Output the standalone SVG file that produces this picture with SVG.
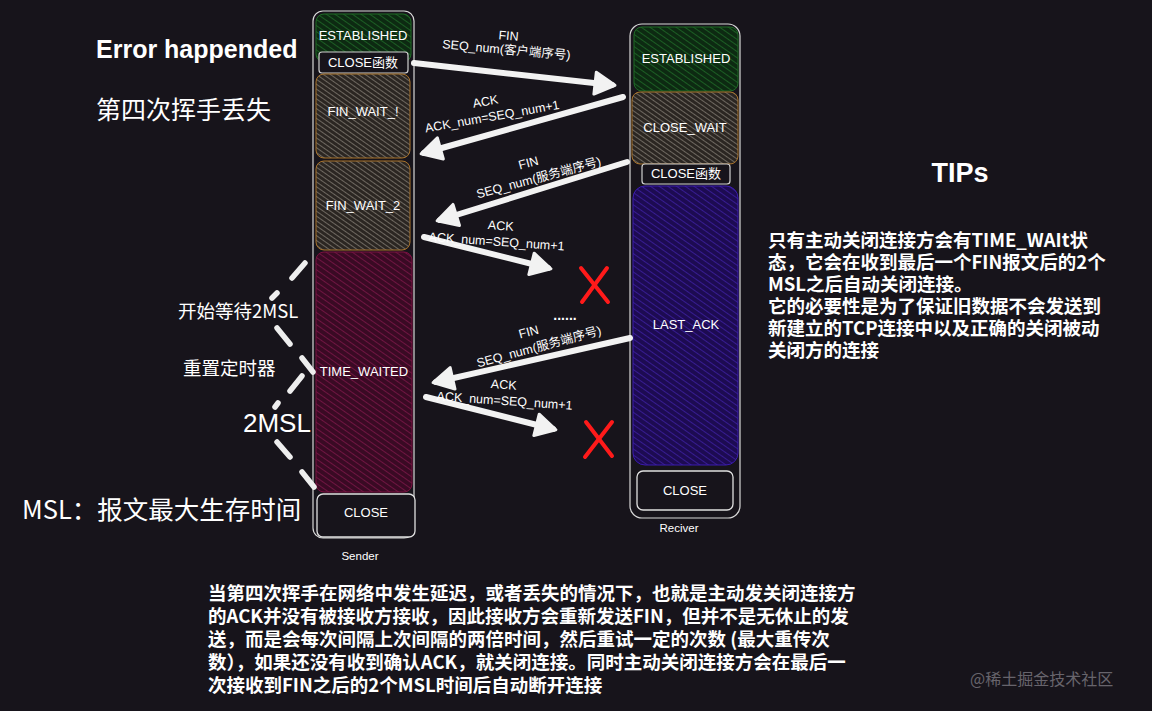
<svg xmlns="http://www.w3.org/2000/svg" width="1152" height="711" viewBox="0 0 1152 711">
<defs>
<pattern id="hGreen" width="5" height="5" patternUnits="userSpaceOnUse" patternTransform="rotate(-55)"><rect width="5" height="5" fill="#0d2a12"/><line x1="0" y1="0" x2="0" y2="5" stroke="#237a2e" stroke-width="1.3"/></pattern>
<pattern id="hGrey" width="4" height="4" patternUnits="userSpaceOnUse" patternTransform="rotate(-55)"><rect width="4" height="4" fill="#2b2622"/><line x1="0" y1="0" x2="0" y2="4" stroke="#9c948a" stroke-width="1.2"/></pattern>
<pattern id="hRed" width="5" height="5" patternUnits="userSpaceOnUse" patternTransform="rotate(-55)"><rect width="5" height="5" fill="#3a0a24"/><line x1="0" y1="0" x2="0" y2="5" stroke="#8c1a52" stroke-width="1.3"/></pattern>
<pattern id="hPurple" width="5" height="5" patternUnits="userSpaceOnUse" patternTransform="rotate(-55)"><rect width="5" height="5" fill="#1d0b52"/><line x1="0" y1="0" x2="0" y2="5" stroke="#4524b4" stroke-width="1.3"/></pattern>
<marker id="ah" markerWidth="8" markerHeight="8" refX="5" refY="4" orient="auto" markerUnits="userSpaceOnUse" viewBox="0 0 8 8" overflow="visible">
<path d="M-12,-7 L8,4 L-12,15 Z" fill="#f2f2f2" stroke="#f2f2f2" stroke-width="3" stroke-linejoin="round"/>
</marker>
<style>
.t{font-family:"Liberation Sans","Noto Sans CJK SC",sans-serif;fill:#ffffff;text-anchor:middle;}
.s{font-size:13px;}
.lab{font-size:12.5px;}
.p{font-family:"Noto Sans CJK SC","Liberation Sans",sans-serif;fill:#ffffff;font-size:18.5px;font-weight:bold;}
.outer{fill:none;stroke:#d8d8d8;stroke-width:1.2;}
.fn{fill:#17141b;stroke:#d0d0d0;stroke-width:1.2;}
.arr{stroke:#f2f2f2;stroke-width:6;stroke-linecap:round;fill:none;marker-end:url(#ah);}
.x{stroke:#ff1a1a;stroke-width:4;stroke-linecap:round;}
.dash{stroke:#eeeeee;stroke-width:5.5;stroke-linecap:round;fill:none;}
</style>
</defs>
<rect width="1152" height="711" fill="#17141b"/>

<g id="sender">
<rect class="outer" x="313" y="11" width="101" height="527" rx="10"/>
<rect x="316" y="14" width="95" height="48" rx="8" fill="url(#hGreen)" stroke="#1e6b25"/>
<text class="t s" x="363" y="40">ESTABLISHED</text>
<rect class="fn" x="319" y="52" width="89" height="21" rx="3"/>
<text class="t s" x="363" y="67">CLOSE函数</text>
<rect x="316" y="74" width="94" height="84" rx="8" fill="url(#hGrey)" stroke="#a8722a"/>
<text class="t s" x="363" y="116">FIN_WAIT_!</text>
<rect x="316" y="161" width="94" height="89" rx="8" fill="url(#hGrey)" stroke="#a8722a"/>
<text class="t s" x="363" y="210">FIN_WAIT_2</text>
<rect x="316" y="252" width="96" height="240" rx="8" fill="url(#hRed)" stroke="#7a1040"/>
<text class="t s" x="364" y="376">TIME_WAITED</text>
<rect x="317" y="494" width="98" height="43" rx="6" fill="#17141b" stroke="#e0e0e0" stroke-width="1.3"/>
<text class="t s" x="366" y="517">CLOSE</text>
<text class="t" x="360" y="560" font-size="11.5">Sender</text>
</g>

<g id="receiver">
<rect class="outer" x="630" y="24" width="110" height="494" rx="12"/>
<rect x="634" y="27" width="104" height="64" rx="8" fill="url(#hGreen)" stroke="#1e6b25"/>
<text class="t s" x="686" y="63">ESTABLISHED</text>
<rect x="632" y="92" width="106" height="72" rx="8" fill="url(#hGrey)" stroke="#a8722a"/>
<text class="t s" x="685" y="132">CLOSE_WAIT</text>
<rect class="fn" x="642" y="164" width="88" height="20" rx="3"/>
<text class="t s" x="686" y="178">CLOSE函数</text>
<rect x="633" y="186" width="105" height="279" rx="12" fill="url(#hPurple)" stroke="#3a1ab0"/>
<text class="t s" x="686" y="329">LAST_ACK</text>
<rect x="637" y="471" width="96" height="39" rx="6" fill="#17141b" stroke="#e0e0e0" stroke-width="1.3"/>
<text class="t s" x="685" y="495">CLOSE</text>
<text class="t" x="679" y="532" font-size="11.5">Reciver</text>
</g>

<g id="connectors">
<line class="arr" x1="414" y1="63" x2="612" y2="85"/>
<line class="arr" x1="623" y1="97" x2="424" y2="153"/>
<line class="arr" x1="627" y1="162" x2="440" y2="220"/>
<line class="arr" x1="424" y1="237" x2="548" y2="268"/>
<line class="arr" x1="630" y1="338" x2="436" y2="382"/>
<line class="arr" x1="426" y1="397" x2="553" y2="429"/>
<g id="bracket1">
<line class="dash" x1="305" y1="263" x2="292" y2="278"/>
<line class="dash" x1="277" y1="293" x2="272" y2="298"/>
<line class="dash" x1="277" y1="328" x2="290" y2="344"/>
<line class="dash" x1="302" y1="358" x2="313" y2="372"/>
</g>
<g id="bracket2">
<line class="dash" x1="302" y1="376" x2="290" y2="391"/>
<line class="dash" x1="278" y1="403" x2="275" y2="407"/>
<line class="dash" x1="277" y1="442" x2="290" y2="457"/>
<line class="dash" x1="302" y1="472" x2="314" y2="487"/>
</g>
</g>

<g id="labels">
<g transform="rotate(5 508 43)">
<text class="t lab" x="508" y="40">FIN</text>
<text class="t lab" x="507" y="54">SEQ_num(客户端序号)</text>
</g>
<g transform="rotate(-10 490 110)">
<text class="t lab" x="487" y="105">ACK</text>
<text class="t lab" x="491" y="121">ACK_num=SEQ_num+1</text>
</g>
<g transform="rotate(-15 534 172)">
<text class="t lab" x="531" y="166">FIN</text>
<text class="t lab" x="537" y="183">SEQ_num(服务端序号)</text>
</g>
<g transform="rotate(4 500 236)">
<text class="t lab" x="500" y="230">ACK</text>
<text class="t lab" x="497" y="246">ACK_num=SEQ_num+1</text>
</g>
<g transform="rotate(-15 534 340)">
<text class="t lab" x="531" y="335">FIN</text>
<text class="t lab" x="537" y="352">SEQ_num(服务端序号)</text>
</g>
<g transform="rotate(4 505 395)">
<text class="t lab" x="503" y="389">ACK</text>
<text class="t lab" x="505" y="405">ACK_num=SEQ_num+1</text>
</g>
<text class="t" x="565" y="320" font-size="14" font-weight="bold">......</text>
</g>

<g id="lost1">
<line class="x" x1="581" y1="268" x2="608" y2="302"/>
<line class="x" x1="607" y1="268" x2="582" y2="302"/>
</g>
<g id="lost2">
<line class="x" x1="586" y1="422" x2="612" y2="456"/>
<line class="x" x1="612" y1="422" x2="585" y2="457"/>
</g>

<g id="left-notes">
<text x="96" y="58" font-family="Liberation Sans, sans-serif" font-size="25" font-weight="bold" fill="#ffffff">Error happended</text>
<text x="96" y="119" font-family="Noto Sans CJK SC, sans-serif" font-size="25" fill="#ffffff">第四次挥手丢失</text>
<text x="178" y="318" font-family="Noto Sans CJK SC, sans-serif" font-size="18.5" fill="#ffffff">开始等待2MSL</text>
<text x="183" y="375" font-family="Noto Sans CJK SC, sans-serif" font-size="18.5" fill="#ffffff">重置定时器</text>
<text x="243" y="432" font-family="Liberation Sans, sans-serif" font-size="26" fill="#ffffff">2MSL</text>
<text x="22" y="519" font-family="Noto Sans CJK SC, sans-serif" font-size="25.5" fill="#ffffff">MSL：报文最大生存时间</text>
</g>

<g id="tips">
<text x="960" y="182" class="t" font-size="27" font-weight="bold">TIPs</text>
<text class="p" x="768" y="247">只有主动关闭连接方会有TIME_WAIt状</text>
<text class="p" x="768" y="269">态，它会在收到最后一个FIN报文后的2个</text>
<text class="p" x="768" y="291">MSL之后自动关闭连接。</text>
<text class="p" x="768" y="313">它的必要性是为了保证旧数据不会发送到</text>
<text class="p" x="768" y="335">新建立的TCP连接中以及正确的关闭被动</text>
<text class="p" x="768" y="357">关闭方的连接</text>
</g>

<g id="description">
<text class="p" x="208" y="600">当第四次挥手在网络中发生延迟，或者丢失的情况下，也就是主动发关闭连接方</text>
<text class="p" x="208" y="623">的ACK并没有被接收方接收，因此接收方会重新发送FIN，但并不是无休止的发</text>
<text class="p" x="208" y="646">送，而是会每次间隔上次间隔的两倍时间，然后重试一定的次数 (最大重传次</text>
<text class="p" x="208" y="669">数），如果还没有收到确认ACK，就关闭连接。同时主动关闭连接方会在最后一</text>
<text class="p" x="208" y="692">次接收到FIN之后的2个MSL时间后自动断开连接</text>
</g>

<text x="970" y="685" font-family="Noto Sans CJK SC, sans-serif" font-size="16" fill="#67646c">@稀土掘金技术社区</text>
</svg>
